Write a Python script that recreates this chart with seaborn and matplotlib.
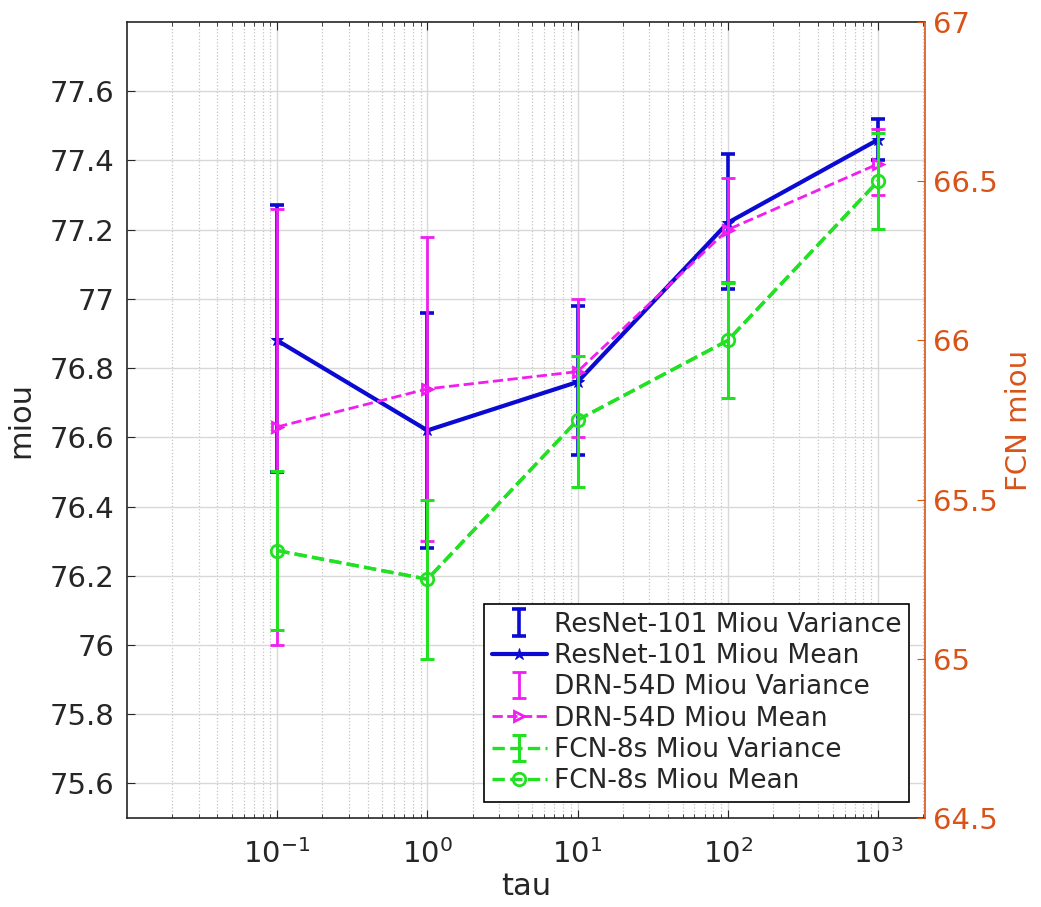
# %%
# Curvas miou vs tau (ResNet-101, DRN-54D, FCN-8s)
import numpy as np
import seaborn as sns
from matplotlib import pyplot as plt
from matplotlib.ticker import FormatStrFormatter

tau = [0.1, 1, 10, 100, 1000]

# ResNet-101 (eje izquierdo)
resnet_mean = [76.88, 76.62, 76.76, 77.22, 77.46]
resnet_low = [76.50, 76.28, 76.55, 77.03, 77.40]
resnet_high = [77.27, 76.96, 76.98, 77.42, 77.52]

# DRN-54D (eje izquierdo)
drn_mean = [76.63, 76.74, 76.79, 77.20, 77.39]
drn_low = [76.00, 76.30, 76.60, 77.05, 77.30]
drn_high = [77.26, 77.18, 77.00, 77.35, 77.49]

# FCN-8s (eje derecho)
fcn_mean = [65.34, 65.25, 65.75, 66.00, 66.50]
fcn_low = [65.09, 65.00, 65.54, 65.82, 66.35]
fcn_high = [65.59, 65.50, 65.95, 66.18, 66.65]

left_ticks = [75.6, 75.8, 76, 76.2, 76.4, 76.6, 76.8, 77, 77.2, 77.4, 77.6]
right_ticks = [64.5, 65, 65.5, 66, 66.5, 67]
x_ticks = [0.1, 1, 10, 100, 1000]

# %%
sns.set_style("white")
plt.rcParams['font.family'] = ['DejaVu Sans']
plt.rcParams['mathtext.fontset'] = 'dejavusans'

azul = '#0a0ad2'
magenta = '#f01ef0'
verde = '#22e022'
naranja = '#d95319'
gris = '#262626'


def err(mean, low, high):
    m = np.array(mean)
    return [m - np.array(low), np.array(high) - m]


fig = plt.figure(figsize=(10.41, 9.07), dpi=100)
ax = fig.add_axes([0.122, 0.0981, 0.7664, 0.8776])
ax2 = ax.twinx()

h1 = ax.errorbar(tau, resnet_mean, yerr=err(resnet_mean, resnet_low, resnet_high),
                 fmt='none', ecolor=azul, elinewidth=2.6, capsize=5, capthick=2.6,
                 label='ResNet-101 Miou Variance')
sns.lineplot(x=tau, y=resnet_mean, ax=ax, color=azul, linewidth=3, marker='*',
             markersize=9, markeredgecolor=azul, label='ResNet-101 Miou Mean')
h2 = ax.lines[-1]
h3 = ax.errorbar(tau, drn_mean, yerr=err(drn_mean, drn_low, drn_high),
                 fmt='none', ecolor=magenta, elinewidth=2, capsize=5, capthick=2,
                 label='DRN-54D Miou Variance')
sns.lineplot(x=tau, y=drn_mean, ax=ax, color=magenta, linewidth=2, linestyle='--',
             marker='>', markersize=7, markerfacecolor='none', markeredgecolor=magenta,
             markeredgewidth=2, label='DRN-54D Miou Mean')
h4 = ax.lines[-1]

h5 = ax2.errorbar(tau, fcn_mean, yerr=err(fcn_mean, fcn_low, fcn_high),
                  fmt='--', color=verde, ecolor=verde, linewidth=2.4, elinewidth=2.2,
                  capsize=5, capthick=2.2, label='FCN-8s Miou Variance')
sns.lineplot(x=tau, y=fcn_mean, ax=ax2, color=verde, linewidth=2.4, linestyle='--',
             marker='o', markersize=9, markerfacecolor='none', markeredgecolor=verde,
             markeredgewidth=2, label='FCN-8s Miou Mean')
h6 = ax2.lines[-1]

for a in (ax, ax2):
    if a.get_legend() is not None:
        a.get_legend().remove()

ax.set_xscale('log')
ax.set_xlim(0.01, 2050)
ax.set_xticks(x_ticks)
ax.set_ylim(75.5, 77.8)
ax.set_yticks(left_ticks)
ax.yaxis.set_major_formatter(FormatStrFormatter('%g'))
ax2.set_ylim(64.5, 67)
ax2.set_yticks(right_ticks)
ax2.yaxis.set_major_formatter(FormatStrFormatter('%g'))

ax.grid(which='major', color='#d8d8d8', linewidth=1)
ax.grid(which='minor', axis='x', color='#c4c4c4', linestyle=':', linewidth=0.9)
ax.set_axisbelow(True)

ax.tick_params(axis='x', which='both', direction='in', top=True, bottom=True,
               labelsize=21, colors=gris, pad=15)
ax.tick_params(axis='x', which='major', length=6)
ax.tick_params(axis='x', which='minor', length=3)
ax.tick_params(axis='y', direction='in', length=6, labelsize=21, colors=gris,
               right=False, pad=9)
ax2.tick_params(axis='y', direction='in', length=6, labelsize=21, colors=naranja, pad=6)

for s in ['left', 'top', 'bottom']:
    ax.spines[s].set_color(gris)
    ax.spines[s].set_linewidth(1.2)
ax2.spines['right'].set_color(naranja)
ax2.spines['right'].set_linewidth(1.2)
ax.spines['right'].set_visible(False)
for s in ['left', 'top', 'bottom']:
    ax2.spines[s].set_visible(False)

ax.set_xlabel('tau', fontsize=22, color=gris, labelpad=2)
ax.set_ylabel('miou', fontsize=22, color=gris, labelpad=10)
ax2.set_ylabel('FCN miou', fontsize=21, color=naranja, labelpad=5)

leg = ax2.legend([h1, h2, h3, h4, h5, h6],
                 ['ResNet-101 Miou Variance', 'ResNet-101 Miou Mean',
                  'DRN-54D Miou Variance', 'DRN-54D Miou Mean',
                  'FCN-8s Miou Variance', 'FCN-8s Miou Mean'],
                 loc='lower right', fontsize=19, frameon=True, fancybox=False,
                 framealpha=1, edgecolor='black', borderaxespad=0.6,
                 handlelength=2.1, handletextpad=0.25, labelspacing=0.2,
                 borderpad=0.3)
leg.get_frame().set_linewidth(1.2)
for t in leg.get_texts():
    t.set_color(gris)

fig.savefig('out.png', dpi=100, facecolor='white')
